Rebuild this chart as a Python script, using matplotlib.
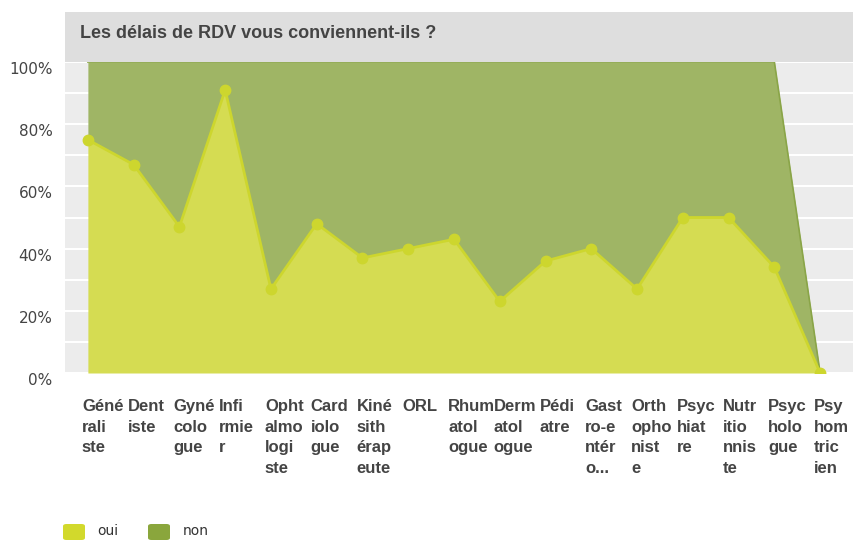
import matplotlib
matplotlib.use("Agg")
import matplotlib.pyplot as plt
from matplotlib.patches import Rectangle, FancyBboxPatch
from matplotlib.transforms import ScaledTranslation
import numpy as np

title = "Les délais de RDV vous conviennent-ils ?"
categories = ["Généraliste", "Dentiste", "Gynécologue", "Infirmier", "Ophtalmologiste",
              "Cardiologue", "Kinésithérapeute", "ORL", "Rhumatologue", "Dermatologue",
              "Pédiatre", "Gastro-entérologue", "Orthophoniste", "Psychiatre",
              "Nutritionniste", "Psychologue", "Psychomotricien"]
tick_labels = ["Géné\nrali\nste", "Dent\niste", "Gyné\ncolo\ngue", "Infi\nrmie\nr",
               "Opht\nalmo\nlogi\nste", "Card\niolo\ngue", "Kiné\nsith\nérap\neute", "ORL",
               "Rhum\natol\nogue", "Derm\natol\nogue", "Pédi\natre", "Gast\nro-e\nntér\no...",
               "Orth\nopho\nnist\ne", "Psyc\nhiat\nre", "Nutr\nitio\nnnis\nte",
               "Psyc\nholo\ngue", "Psy\nhom\ntric\nien"]
oui = [75, 67, 47, 91, 27, 48, 37, 40, 43, 23, 36, 40, 27, 50, 50, 34, 0]
non = [25, 33, 53, 9, 73, 52, 63, 60, 57, 77, 64, 60, 73, 50, 50, 66, 0]
series_names = ["oui", "non"]
y_ticks = [0, 20, 40, 60, 80, 100]
y_tick_labels = ["0%", "20%", "40%", "60%", "80%", "100%"]

c_oui = "#d5dc52"
c_oui_line = "#cdd62e"
c_non = "#9fb565"
c_oui_leg = "#d2d92c"
c_non_leg = "#8aa63c"

W, H = 854, 541
fig = plt.figure(figsize=(W / 100, H / 100), dpi=100)
fig.patch.set_facecolor("white")

# title band
fig.patches.append(Rectangle((65 / W, 1 - 62 / H), (W - 65) / W, 50 / H,
                             transform=fig.transFigure, facecolor="#dedede",
                             edgecolor="none", zorder=0))
fig.text(80 / W, 1 - 33 / H, title, fontsize=13, fontweight="bold",
         family="Liberation Sans", color="#444444", va="center", ha="left")

ax = fig.add_axes([65 / W, 1 - 373 / H, (W - 65) / W, (373 - 62) / H])
ax.set_facecolor("#ececec")
x = np.arange(len(categories))
oui_a = np.array(oui, dtype=float)
non_a = np.array(non, dtype=float)

ax.fill_between(x, oui_a, oui_a + non_a, color=c_non, lw=0, zorder=2)
ax.plot(x, oui_a + non_a, color="#8aa548", lw=1.2, zorder=2.5)
ax.fill_between(x, 0, oui_a, color=c_oui, lw=0, zorder=3)
ax.plot(x, oui_a, color=c_oui_line, lw=2, marker="o", ms=7.5,
        markerfacecolor=c_oui_line, markeredgecolor=c_oui_line, zorder=4)

ax.set_xlim(-0.5, 16.74)
ax.set_ylim(0, 100)
ax.set_yticks(y_ticks)
ax.set_yticklabels(y_tick_labels, fontsize=11, color="#444444", family="DejaVu Sans")
ax.set_yticks(np.arange(10, 100, 20), minor=True)
ax.yaxis.grid(True, which="major", color="white", lw=1.5)
ax.yaxis.grid(True, which="minor", color="white", lw=1.5)
ax.set_axisbelow(True)
ax.tick_params(axis="y", which="both", length=0, pad=9)
for lab in ax.get_yticklabels():
    lab.set_transform(lab.get_transform() + ScaledTranslation(0, -6 / 100, fig.dpi_scale_trans))

ax.set_xticks(x)
ax.set_xticklabels(tick_labels, fontsize=12, fontweight="bold", family="Liberation Sans",
                   color="#444444", ha="left", va="top", linespacing=1.45)
ax.tick_params(axis="x", which="both", length=0, pad=19)
for lab in ax.get_xticklabels():
    lab.set_transform(lab.get_transform() + ScaledTranslation(-6 / 100, 0, fig.dpi_scale_trans))

for s in ax.spines.values():
    s.set_visible(False)

# legend
leg_items = [(63, c_oui_leg, series_names[0], 97), (148, c_non_leg, series_names[1], 183)]
for px, col, name, tx in leg_items:
    fig.patches.append(FancyBboxPatch((px / W, 1 - 540 / H), 22 / W, 16 / H,
                                      boxstyle="round,pad=0,rounding_size=0.004",
                                      transform=fig.transFigure, facecolor=col,
                                      edgecolor="none"))
    fig.text(tx / W, 1 - 531 / H, name, fontsize=10, family="DejaVu Sans",
             color="#333333", va="center", ha="left")

fig.savefig("out.png", dpi=100)
